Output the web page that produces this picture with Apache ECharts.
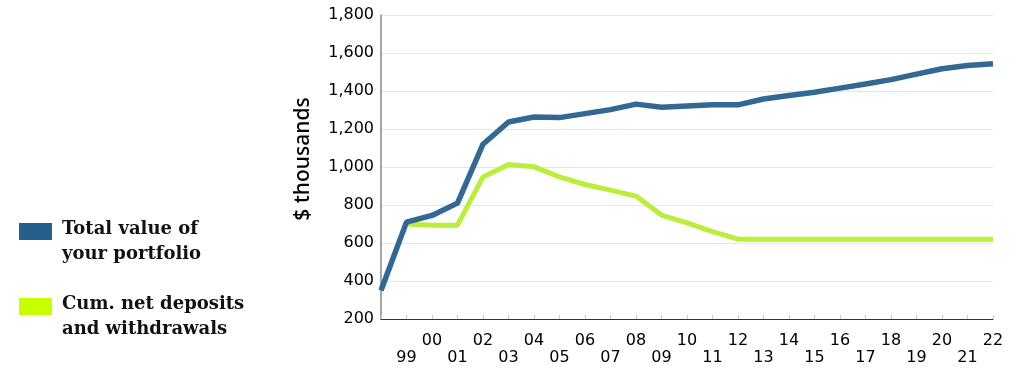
<!DOCTYPE html>
<html>
<head>
<meta charset="utf-8">
<script src="https://cdn.jsdelivr.net/npm/echarts@6/dist/echarts.min.js"></script>
<style>
  html, body { margin: 0; padding: 0; background: #fff; }
  #chart { width: 1018px; height: 368px; }
</style>
</head>
<body>
<div id="chart"></div>
<script>
// Years 1998–2022 (two-digit labels); the first year carries no label
const years = ['98','99','00','01','02','03','04','05','06','07','08','09','10',
               '11','12','13','14','15','16','17','18','19','20','21','22'];

// Total value of the portfolio, $ thousands
const totalValue = [350, 710, 745, 810, 1120, 1237, 1263, 1260, 1281, 1302, 1331, 1315, 1321,
                    1327, 1327, 1358, 1376, 1393, 1415, 1437, 1460, 1489, 1517, 1534, 1543];

// Cumulative net deposits and withdrawals, $ thousands
const netDeposits = [null, 700, 694, 694, 948, 1013, 1001, 948, 908, 878, 847, 747, 706,
                     660, 620, 620, 620, 620, 620, 620, 620, 620, 620, 620, 620];

const legendItems = [
  { color: '#25608d', lines: 'Total value of\nyour portfolio' },
  { color: '#c8ff00', lines: 'Cum. net deposits\nand withdrawals' }
];

const chart = echarts.init(document.getElementById('chart'), null, { renderer: 'canvas' });

const legendGraphics = [];
legendItems.forEach((item, i) => {
  const top = 223 + i * 75;
  legendGraphics.push({
    type: 'rect',
    left: 19, top: top,
    shape: { width: 33, height: 17 },
    style: { fill: item.color }
  });
  legendGraphics.push({
    type: 'text',
    left: 62, top: top - 6,
    style: {
      text: item.lines,
      fill: '#111',
      font: 'bold 18px "DejaVu Serif", serif',
      lineHeight: 25
    }
  });
});

chart.setOption({
  animation: false,
  grid: { left: 381, right: 25, top: 15, bottom: 49 },
  graphic: legendGraphics,
  xAxis: {
    type: 'category',
    data: years,
    boundaryGap: false,
    axisLine: { lineStyle: { color: '#333', width: 1 } },
    axisTick: { show: true, inside: true, length: 4, interval: 0, lineStyle: { color: '#ccc' } },
    axisLabel: {
      interval: 0,
      color: '#000',
      fontFamily: 'DejaVu Sans',
      fontSize: 16,
      lineHeight: 17,
      margin: 13,
      formatter: (v, i) => (i === 0 ? '' : (i % 2 === 0 ? v + '\n' : '\n' + v))
    },
    splitLine: { show: false }
  },
  yAxis: {
    type: 'value',
    min: 200, max: 1800, interval: 200,
    name: '$ thousands',
    nameLocation: 'middle',
    nameGap: 67,
    nameTextStyle: {
      fontFamily: 'Noto Sans', fontSize: 21, color: '#000', fontWeight: 500,
      padding: [0, 0, 0, 16]
    },
    axisLine: { show: true, lineStyle: { color: '#888', width: 1.5 } },
    axisTick: { show: false },
    axisLabel: {
      color: '#000',
      fontFamily: 'DejaVu Sans',
      fontSize: 16,
      margin: 7,
      formatter: v => v.toLocaleString('en-US')
    },
    splitLine: { lineStyle: { color: '#e4e4ee', width: 1 } }
  },
  series: [
    {
      name: 'Cum. net deposits and withdrawals',
      type: 'line',
      data: netDeposits,
      symbol: 'none',
      lineStyle: { color: '#b9ef3a', width: 5 },
      z: 2
    },
    {
      name: 'Total value of your portfolio',
      type: 'line',
      data: totalValue,
      symbol: 'none',
      lineStyle: { color: '#326891', width: 5.5 },
      z: 3
    }
  ]
});
</script>
</body>
</html>
